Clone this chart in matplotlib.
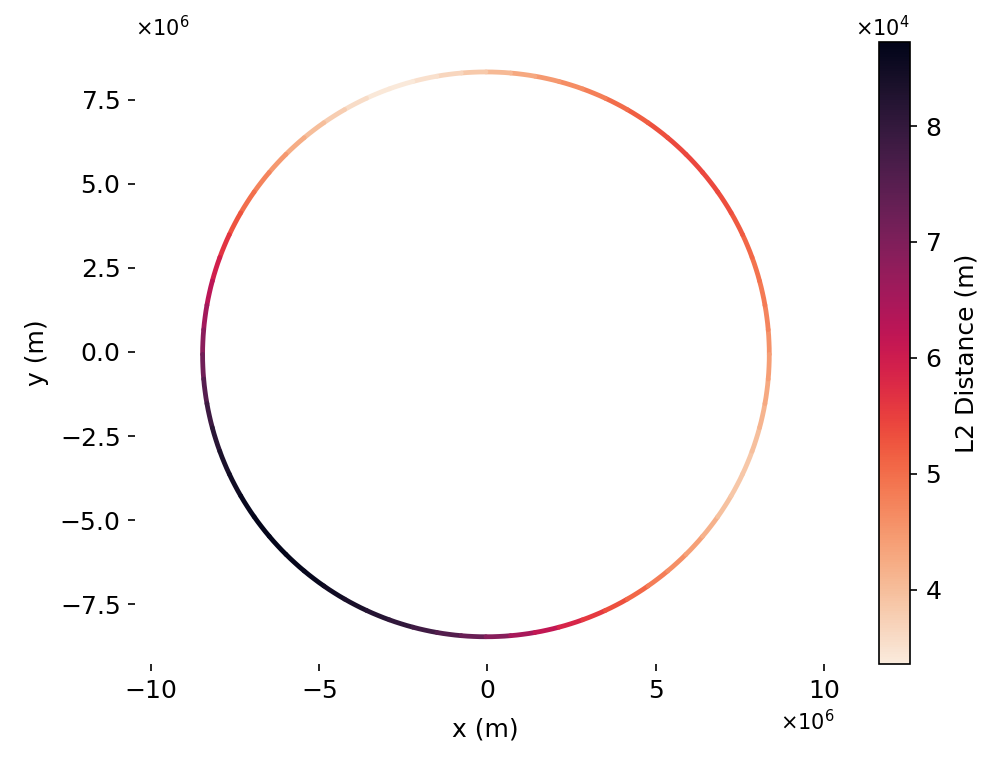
import numpy as np
import matplotlib
matplotlib.use("Agg")
import matplotlib.pyplot as plt
from matplotlib.patches import Arc
from matplotlib.colors import Normalize
from matplotlib.cm import ScalarMappable
from matplotlib.ticker import ScalarFormatter, MultipleLocator
import seaborn as sns

# ---- data ----
# orbit: centre and semi-axes (1e6 m)
center_x_1e6m = -0.04
center_y_1e6m = -0.07
semi_axis_x_1e6m = 8.42
semi_axis_y_1e6m = 8.39
# sample angles around the orbit (degrees) and L2 distance there (1e4 m)
angle_deg = [0, 5, 10, 15, 20, 25, 30, 35, 40, 45, 50, 55, 60, 65, 70, 75, 80, 85,
             90, 95, 100, 105, 110, 115, 120, 125, 130, 135, 140, 145, 150, 155, 160, 165, 170, 175,
             180, 185, 190, 195, 200, 205, 210, 215, 220, 225, 230, 235, 240, 245, 250, 255, 260, 265,
             270, 275, 280, 285, 290, 295, 300, 305, 310, 315, 320, 325, 330, 335, 340, 345, 350, 355]
l2_distance_1e4m = [4.50, 4.65, 4.80, 4.90, 5.00, 5.15, 5.30, 5.38, 5.42, 5.42, 5.38, 5.25, 5.10, 4.90, 4.70, 4.55, 4.40, 4.18,
                    3.95, 3.75, 3.58, 3.44, 3.36, 3.48, 3.70, 3.90, 4.10, 4.35, 4.60, 4.85, 5.10, 5.45, 5.80, 6.10, 6.40, 6.70,
                    7.00, 7.35, 7.70, 8.00, 8.25, 8.42, 8.56, 8.66, 8.725, 8.70, 8.65, 8.55, 8.42, 8.28, 8.12, 7.92, 7.70, 7.42,
                    7.10, 6.70, 6.30, 6.00, 5.70, 5.45, 5.20, 4.95, 4.70, 4.50, 4.30, 4.05, 3.88, 3.85, 3.90, 4.05, 4.20, 4.35]

# ---- figure ----
W, H, DPI = 996, 758, 150
fig = plt.figure(figsize=(W / DPI, H / DPI), dpi=DPI)
ax = fig.add_axes([135 / W, (H - 664) / H, 700 / W, 622 / H])
cax = fig.add_axes([879 / W, (H - 664) / H, 31 / W, 622 / H])

vals = np.array(l2_distance_1e4m) * 1e4
cmap = sns.color_palette("rocket_r", as_cmap=True)
norm = Normalize(vmin=vals.min(), vmax=vals.max())

n = len(angle_deg)
for i in range(n):
    a0 = angle_deg[i]
    a1 = angle_deg[(i + 1) % n]
    if a1 <= a0:
        a1 += 360
    v = 0.5 * (vals[i] + vals[(i + 1) % n])
    arc = Arc((center_x_1e6m * 1e6, center_y_1e6m * 1e6),
              2 * semi_axis_x_1e6m * 1e6, 2 * semi_axis_y_1e6m * 1e6,
              theta1=a0, theta2=a1, color=cmap(norm(v)), lw=2.3,
              capstyle="round")
    ax.add_patch(arc)

ax.set_xlim(-10.469e6, 10.333e6)
ax.set_ylim(-9.27e6, 9.21e6)
ax.xaxis.set_major_locator(MultipleLocator(5e6))
ax.yaxis.set_major_locator(MultipleLocator(2.5e6))
for s in ax.spines.values():
    s.set_visible(False)
ax.ticklabel_format(style="sci", scilimits=(6, 6), useMathText=True)
ax.tick_params(labelsize=12)
ax.set_xlabel("x (m)", fontsize=12, labelpad=7)
ax.set_ylabel("y (m)", fontsize=12, labelpad=5)

sm = ScalarMappable(norm=norm, cmap=cmap)
sm.set_array(vals)
cbar = fig.colorbar(sm, cax=cax)
fmt = ScalarFormatter(useMathText=True)
fmt.set_powerlimits((0, 0))
cbar.formatter = fmt
cbar.update_ticks()
cbar.ax.tick_params(labelsize=12)
cbar.set_label("L2 Distance (m)", fontsize=12, labelpad=6.5)

fig.savefig("out.png", dpi=DPI)
